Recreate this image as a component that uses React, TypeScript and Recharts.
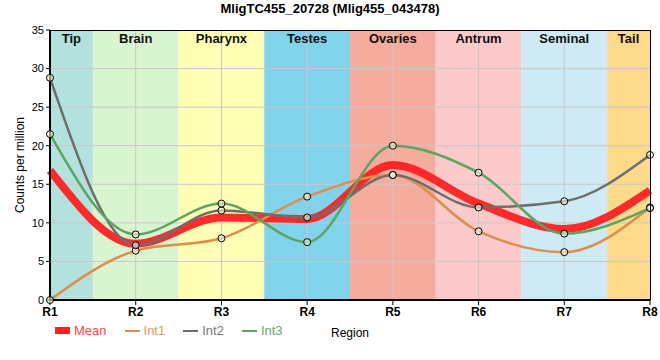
import React from "react";
import { LineChart, Line, XAxis, YAxis, ReferenceArea, ReferenceLine } from "recharts";

const regions = ["R1", "R2", "R3", "R4", "R5", "R6", "R7", "R8"];
const tissues = ["Tip", "Brain", "Pharynx", "Testes", "Ovaries", "Antrum", "Seminal", "Tail"];
const tissueColors = ["#b3e2de", "#d9f5d0", "#ffffb5", "#80d3eb", "#f5ab9d", "#fdcacb", "#ceeaf4", "#fdd98b"];

const mean = [16.8, 7.3, 10.7, 10.5, 17.5, 12.5, 9.2, 14.2];
const int1 = [0, 6.4, 8.0, 13.4, 16.2, 8.9, 6.2, 12.0];
const int2 = [28.8, 7.1, 11.6, 10.7, 16.2, 12.0, 12.8, 18.8];
const int3 = [21.5, 8.5, 12.5, 7.5, 20.0, 16.5, 8.6, 11.9];
const yTicks = [0, 5, 10, 15, 20, 25, 30, 35];

const series = [
  { key: "Mean", color: "#ff2121", text: "#ff4545" },
  { key: "Int1", color: "#df8d4e", text: "#e39a60" },
  { key: "Int2", color: "#6d6d6d", text: "#777777" },
  { key: "Int3", color: "#5da362", text: "#68a86d" },
];

const data = regions.map((r, i) => ({
  idx: i,
  region: r,
  Mean: mean[i],
  Int1: int1[i],
  Int2: int2[i],
  Int3: int3[i],
}));

const font = "Arial, 'Liberation Sans', sans-serif";

const dotStyle = { r: 3.5, stroke: "#000", strokeWidth: 1, fill: "rgba(255,255,225,0.55)" };

function LegendBox() {
  return (
    <div
      style={{
        position: "absolute",
        left: 55,
        top: 323,
        display: "flex",
        alignItems: "center",
        fontFamily: font,
        fontSize: 13,
      }}
    >
      {series.map((s) => (
        <div key={s.key} style={{ display: "flex", alignItems: "center", marginRight: 18 }}>
          <span
            style={{
              display: "inline-block",
              width: 15,
              height: s.key === "Mean" ? 7 : 2,
              background: s.color,
              marginRight: 4,
            }}
          />
          <span style={{ color: s.text }}>{s.key}</span>
        </div>
      ))}
    </div>
  );
}

export default function App() {
  return (
    <div style={{ position: "absolute", left: 0, top: 0, width: 660, height: 360, background: "#fff" }}>
      <div
        style={{
          position: "absolute",
          top: 1,
          left: 0,
          width: 660,
          textAlign: "center",
          fontFamily: font,
          fontWeight: "bold",
          fontSize: 13,
          color: "#000",
        }}
      >
        MligTC455_20728 (Mlig455_043478)
      </div>
      <div
        style={{
          position: "absolute",
          left: 20,
          top: 165,
          transform: "translate(-50%, -50%) rotate(-90deg)",
          whiteSpace: "nowrap",
          fontFamily: font,
          fontSize: 12,
          color: "#000",
        }}
      >
        Counts per million
      </div>
      <LineChart
        width={660}
        height={360}
        data={data}
        margin={{ top: 30, right: 10, left: 0, bottom: 30 }}
        style={{ fontFamily: font }}
      >
        {tissues.map((t, i) => (
          <ReferenceArea
            key={t}
            x1={Math.max(0, i - 0.5)}
            x2={Math.min(regions.length - 1, i + 0.5)}
            y1={0}
            y2={35}
            fill={tissueColors[i]}
            fillOpacity={1}
            stroke="none"
            label={{ value: t, position: "insideTop", fill: "#111", fontWeight: "bold", fontSize: 13, offset: 4 }}
          />
        ))}
        {yTicks.slice(1, -1).map((v) => (
          <ReferenceLine key={`y${v}`} y={v} stroke="#c8c8c8" strokeWidth={1} />
        ))}
        {regions.slice(1, -1).map((r, i) => (
          <ReferenceLine key={`x${r}`} x={i + 1} stroke="#c8c8c8" strokeWidth={1} />
        ))}
        <XAxis
          dataKey="idx"
          type="number"
          domain={[0, regions.length - 1]}
          ticks={regions.map((_, i) => i)}
          tickFormatter={(v) => regions[v]}
          tick={{ fill: "#000", fontSize: 12, fontWeight: "bold" }}
          tickSize={5}
          tickLine={{ stroke: "#000" }}
          axisLine={{ stroke: "#000", strokeWidth: 2 }}
          height={30}
          label={{ value: "Region", position: "insideBottom", offset: -7, fill: "#000", fontSize: 12 }}
        />
        <YAxis
          domain={[0, 35]}
          ticks={yTicks}
          width={50}
          tick={{ fill: "#000", fontSize: 11 }}
          tickSize={4}
          tickLine={{ stroke: "#000" }}
          axisLine={{ stroke: "#000", strokeWidth: 2 }}
        />
        <Line
          type="monotone"
          dataKey="Mean"
          stroke="#ff2121"
          strokeOpacity={0.95}
          strokeWidth={8}
          dot={false}
          isAnimationActive={false}
        />
        <Line type="monotone" dataKey="Int1" stroke="#df8d4e" strokeWidth={2.5} dot={dotStyle} isAnimationActive={false} />
        <Line type="monotone" dataKey="Int2" stroke="#6d6d6d" strokeWidth={2.5} dot={dotStyle} isAnimationActive={false} />
        <Line type="monotone" dataKey="Int3" stroke="#5da362" strokeWidth={2.5} dot={dotStyle} isAnimationActive={false} />
      </LineChart>
      <div
        style={{
          position: "absolute",
          left: 50,
          top: 30,
          width: 601,
          height: 270,
          border: "1px solid #000",
          borderLeft: "none",
          borderBottom: "none",
          boxSizing: "border-box",
          pointerEvents: "none",
        }}
      />
      <LegendBox />
    </div>
  );
}
